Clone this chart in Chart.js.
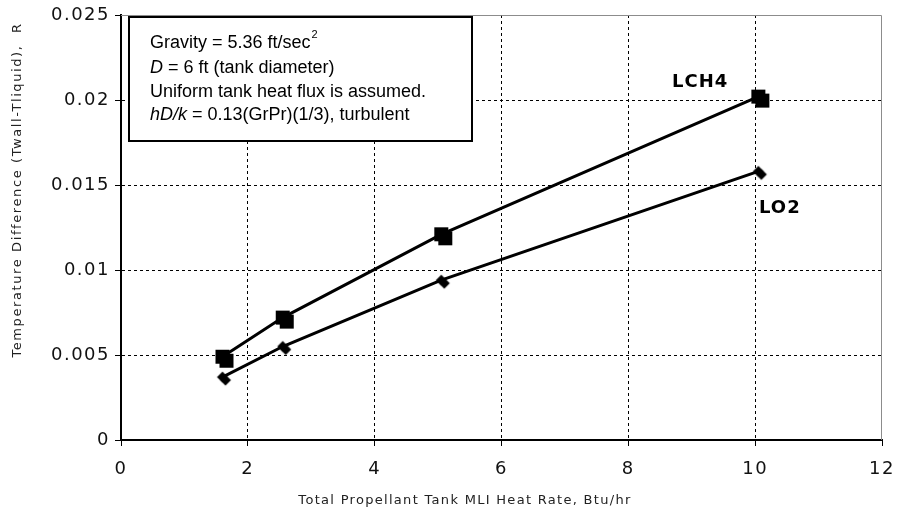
<!DOCTYPE html>
<html>
<head>
<meta charset="utf-8">
<script src="https://cdn.jsdelivr.net/npm/chart.js@4/dist/chart.umd.min.js"></script>
<style>
  html, body { margin: 0; padding: 0; background: #fff; }
  #wrap { width: 902px; height: 515px; }
</style>
</head>
<body>
<div id="wrap"><canvas id="myChart" width="902" height="515"></canvas></div>
<script>
// données
const heatRate = [1.6, 2.55, 5.05, 10.05];
const lch4 = [0.0049, 0.0072, 0.0121, 0.0202];
const lo2 = [0.0037, 0.0055, 0.0094, 0.0158];
const xTicks = [0, 2, 4, 6, 8, 10, 12];
const yTicks = [0, 0.005, 0.01, 0.015, 0.02, 0.025];
const boxLines = [
    'Gravity = 5.36 ft/sec',
    ' = 6 ft (tank diameter)',
    'Uniform tank heat flux is assumed.',
    ' = 0.13(GrPr)(1/3), turbulent'
];

// marqueur doublé (ombre décalée) comme dans l'original
function makeMarker(kind) {
    const c = document.createElement('canvas');
    c.width = 30; c.height = 30;
    const g = c.getContext('2d');
    g.fillStyle = '#000';
    function shape(cx, cy) {
        if (kind === 'square') {
            g.fillRect(cx - 7, cy - 7, 14, 14);
        } else {
            g.beginPath();
            g.moveTo(cx, cy - 5.5); g.lineTo(cx + 5.5, cy); g.lineTo(cx, cy + 5.5); g.lineTo(cx - 5.5, cy);
            g.closePath(); g.fill();
        }
    }
    const off = kind === 'square' ? 4 : 3;
    shape(15 + off, 15 + off);
    shape(15, 15);
    return c;
}

const decorPlugin = {
    id: 'decor',
    beforeDraw(chart) {
        chart.ctx.letterSpacing = '1.5px';
    },
    beforeDatasetsDraw(chart) {
        const { ctx, chartArea: a } = chart;
        ctx.letterSpacing = '0px';
        ctx.save();
        ctx.strokeStyle = '#8c8c8c';
        ctx.lineWidth = 1;
        ctx.beginPath();
        ctx.moveTo(a.left, a.top + 0.5);
        ctx.lineTo(a.right - 0.5, a.top + 0.5);
        ctx.lineTo(a.right - 0.5, a.bottom);
        ctx.stroke();
        ctx.restore();
    },
    afterDraw(chart) {
        const ctx = chart.ctx;
        ctx.save();
        // encadré
        ctx.fillStyle = '#fff';
        ctx.fillRect(129, 17, 343, 124);
        ctx.strokeStyle = '#000';
        ctx.lineWidth = 2;
        ctx.strokeRect(129, 17, 343, 124);
        ctx.fillStyle = '#000';
        ctx.textBaseline = 'middle';
        ctx.textAlign = 'left';
        const f = '18px "Liberation Sans", Arial, sans-serif';
        const fi = 'italic 18px "Liberation Sans", Arial, sans-serif';
        const x0 = 150;
        ctx.font = f;
        ctx.fillText(boxLines[0], x0, 43);
        let w = ctx.measureText(boxLines[0]).width;
        ctx.font = '11px "Liberation Sans", Arial, sans-serif';
        ctx.fillText('2', x0 + w + 1, 35);
        ctx.font = fi;
        ctx.fillText('D', x0, 68);
        w = ctx.measureText('D').width;
        ctx.font = f;
        ctx.fillText(boxLines[1], x0 + w, 68);
        ctx.fillText(boxLines[2], x0, 92);
        ctx.font = fi;
        ctx.fillText('hD/k', x0, 115);
        w = ctx.measureText('hD/k').width;
        ctx.font = f;
        ctx.fillText(boxLines[3], x0 + w, 115);

        // étiquettes des séries
        ctx.font = 'bold 18px "DejaVu Sans", Verdana, sans-serif';
        ctx.letterSpacing = '1px';
        ctx.fillText('LCH4', 672, 82);
        ctx.fillText('LO2', 759, 208);

        // titres des axes
        ctx.font = '13px "DejaVu Sans", Verdana, sans-serif';
        ctx.letterSpacing = '1.3px';
        ctx.fillStyle = '#222';
        ctx.textAlign = 'center';
        ctx.fillText('Total Propellant Tank MLI Heat Rate, Btu/hr', 465, 501);
        ctx.letterSpacing = '1.6px';
        ctx.translate(18, 190);
        ctx.rotate(-Math.PI / 2);
        ctx.fillText('Temperature Difference (Twall-Tliquid),  R', 0, 0);
        ctx.restore();
        ctx.letterSpacing = '0px';
    }
};

const ctx = document.getElementById('myChart').getContext('2d');
const myChart = new Chart(ctx, {
    type: 'scatter',
    data: {
        datasets: [{
            label: 'LCH4',
            data: heatRate.map((x, i) => ({ x: x, y: lch4[i] })),
            showLine: true,
            borderColor: '#000',
            borderWidth: 3,
            pointStyle: makeMarker('square'),
            tension: 0
        }, {
            label: 'LO2',
            data: heatRate.map((x, i) => ({ x: x, y: lo2[i] })),
            showLine: true,
            borderColor: '#000',
            borderWidth: 3,
            pointStyle: makeMarker('diamond'),
            tension: 0
        }]
    },
    options: {
        responsive: false,
        animation: false,
        layout: { padding: { left: 0, right: 20, top: 15, bottom: 0 } },
        plugins: { legend: { display: false }, tooltip: { enabled: false } },
        scales: {
            x: {
                type: 'linear',
                min: 0, max: 12,
                afterFit: s => { s.height = 75; s.paddingRight = 0; s.paddingLeft = 0; },
                afterBuildTicks: s => { s.ticks = xTicks.map(v => ({ value: v })); },
                ticks: {
                    color: '#111',
                    padding: 13,
                    font: { family: '"DejaVu Sans", Verdana, sans-serif', size: 18 },
                    maxRotation: 0
                },
                grid: {
                    color: c => (c.tick && c.tick.value > 0 && c.tick.value < 12) ? '#000' : 'rgba(0,0,0,0)',
                    tickColor: '#000',
                    tickLength: 6,
                    tickBorderDash: []
                },
                border: { display: true, color: '#000', width: 2, dash: [3, 3] }
            },
            y: {
                type: 'linear',
                min: 0, max: 0.025,
                afterFit: s => { s.width = 121; s.paddingTop = 0; s.paddingBottom = 0; },
                afterBuildTicks: s => { s.ticks = yTicks.map(v => ({ value: v })); },
                ticks: {
                    color: '#111',
                    padding: 5,
                    font: { family: '"DejaVu Sans", Verdana, sans-serif', size: 18 },
                    callback: v => String(+v.toFixed(3))
                },
                grid: {
                    color: c => (c.tick && c.tick.value > 0 && c.tick.value < 0.025) ? '#000' : 'rgba(0,0,0,0)',
                    tickColor: '#000',
                    tickLength: 6,
                    tickBorderDash: []
                },
                border: { display: true, color: '#000', width: 2, dash: [3, 3] }
            }
        }
    },
    plugins: [decorPlugin]
});
</script>
</body>
</html>
